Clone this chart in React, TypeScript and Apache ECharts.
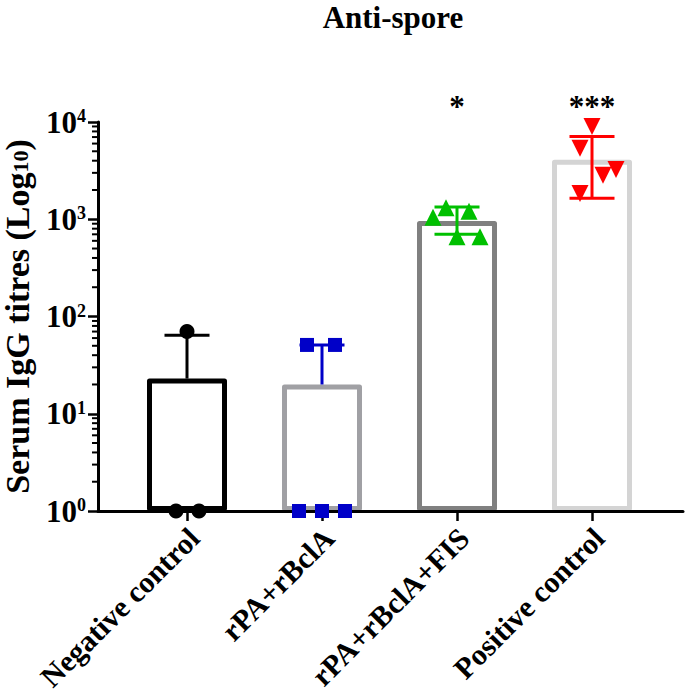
import React, { useEffect, useRef } from "react";
import * as echarts from "echarts";

const categories = ["Negative control", "rPA+rBclA", "rPA+rBclA+FIS", "Positive control"];
const significance = ["", "", "*", "***"];
const meanTitres = [23, 20, 960, 4100];
const errorLow = [23, 20, 700, 1640];
const errorHigh = [64, 51, 1340, 7100];
const negativePoints = [70, 1, 1];
const rpaPoints = [51, 51, 1, 1, 1];
const fisPoints = [1050, 1310, 1210, 660, 660];
const positivePoints = [8970, 5370, 2840, 3240, 1840];
const groupPoints = [negativePoints, rpaPoints, fisPoints, positivePoints];
const yTicks = [1, 10, 100, 1000, 10000];

// horizontal jitter (px) of each individual point, as plotted
const jitter = [
  [0, -11, 12],
  [-15, 13, -23, 0, 23],
  [-24, -11, 12, 0, 23],
  [0, -12, 11, 24, -12],
];
const barColors = ["#000000", "#A0A0A4", "#808080", "#D4D4D4"];
const pointColors = ["#000000", "#0000C8", "#00C000", "#FF0000"];
const symbols = ["circle", "rect", "triangle", "triangle"];
const symbolSizes = [15, 14, 17, 17];
const symbolRotates = [0, 0, 0, 180];

const FONT = "'Liberation Serif', 'Times New Roman', serif";

export default function App() {
  const ref = useRef<HTMLDivElement>(null);
  useEffect(() => {
    document.body.style.margin = "0";
    if (!ref.current) return;
    const chart = echarts.init(ref.current, null, { renderer: "svg" });

    const minorTicks: number[] = [];
    for (let d = 0; d < yTicks.length - 1; d++) {
      for (let m = 2; m <= 9; m++) minorTicks.push(yTicks[d] * m);
    }

    const scatterSeries = groupPoints.map((pts, gi) => ({
      type: "scatter",
      xAxisIndex: 1,
      yAxisIndex: 1,
      z: 12,
      symbol: symbols[gi],
      symbolSize: symbolSizes[gi],
      symbolRotate: symbolRotates[gi],
      itemStyle: { color: pointColors[gi], opacity: 1 },
      data: pts.map((v, i) => ({
        value: [gi, v],
        symbolOffset: [jitter[gi][i], 0],
      })),
    }));

    const gridBase = { top: 122, bottom: 184, outerBoundsMode: "none", containLabel: false };

    const option: any = {
      animation: false,
      title: {
        text: "Anti-spore",
        left: 393,
        textAlign: "center",
        top: 2,
        padding: 0,
        textStyle: { fontFamily: FONT, fontSize: 31, fontWeight: "bold", color: "#000" },
      },
      grid: [
        { ...gridBase, left: 98, right: 2 },
        { ...gridBase, left: 119.5, width: 540 },
        { ...gridBase, left: 126.5, width: 540 },
      ],
      xAxis: [
        {
          type: "value",
          gridIndex: 0,
          min: 0,
          max: 1,
          z: 10,
          axisLine: { show: true, lineStyle: { color: "#000", width: 3 } },
          axisTick: { show: false },
          axisLabel: { show: false },
          splitLine: { show: false },
        },
        {
          type: "category",
          gridIndex: 1,
          data: categories,
          position: "bottom",
          axisLine: { show: false },
          axisTick: { show: true, alignWithLabel: true, length: 10, lineStyle: { color: "#000", width: 2.5 } },
          axisLabel: { show: false },
        },
        {
          type: "category",
          gridIndex: 1,
          data: significance,
          position: "top",
          axisLine: { show: false },
          axisTick: { show: false },
          axisLabel: {
            margin: 0,
            fontFamily: FONT,
            fontSize: 31,
            fontWeight: "bold",
            color: "#000",
            interval: 0,
          },
        },
        {
          type: "category",
          gridIndex: 2,
          data: categories,
          position: "bottom",
          axisLine: { show: false },
          axisTick: { show: false },
          axisLabel: {
            rotate: 45,
            margin: 22,
            padding: [14, 0, 0, 0],
            fontFamily: FONT,
            fontSize: 30,
            fontWeight: "bold",
            color: "#000",
            interval: 0,
          },
        },
      ],
      yAxis: [
        {
          type: "log",
          gridIndex: 0,
          logBase: 10,
          min: 1,
          max: 10000,
          z: 10,
          name: "Serum IgG titres (Log{sub|10})",
          nameLocation: "middle",
          nameRotate: 90,
          nameGap: 67,
          nameTextStyle: {
            fontFamily: FONT,
            fontSize: 34,
            lineHeight: 28,
            fontWeight: "bold",
            color: "#000",
            rich: {
              sub: { fontFamily: FONT, fontSize: 22, lineHeight: 28, fontWeight: "bold", color: "#000", verticalAlign: "bottom" },
            },
          },
          axisLine: { show: true, lineStyle: { color: "#000", width: 3 } },
          axisTick: { show: true, length: 10, lineStyle: { color: "#000", width: 2.5 } },
          splitLine: { show: false },
          axisLabel: {
            margin: 12,
            fontFamily: FONT,
            fontSize: 31,
            fontWeight: "bold",
            color: "#000",
            formatter: (v: number) => `{base|10}{sup|${Math.round(Math.log10(v))}}`,
            rich: {
              base: { fontFamily: FONT, fontSize: 31, fontWeight: "bold", color: "#000", lineHeight: 30 },
              sup: { fontFamily: FONT, fontSize: 18, fontWeight: "bold", color: "#000", verticalAlign: "top", lineHeight: 30 },
            },
          },
        },
        {
          type: "log",
          gridIndex: 1,
          logBase: 10,
          min: 1,
          max: 10000,
          show: false,
          splitLine: { show: false },
        },
        {
          type: "log",
          gridIndex: 2,
          logBase: 10,
          min: 1,
          max: 10000,
          show: false,
          splitLine: { show: false },
        },
      ],
      series: [
        {
          type: "custom",
          xAxisIndex: 0,
          yAxisIndex: 0,
          z: 11,
          silent: true,
          data: minorTicks.map((v) => [0, v]),
          renderItem: (params: any, api: any) => {
            const p = api.coord([0, api.value(1)]);
            return {
              type: "line",
              shape: { x1: p[0] - 6, y1: p[1], x2: p[0], y2: p[1] },
              style: { stroke: "#000", lineWidth: 2 },
            };
          },
        },
        {
          type: "bar",
          xAxisIndex: 1,
          yAxisIndex: 1,
          barWidth: 80,
          z: 2,
          data: meanTitres.map((v, i) => ({
            value: v,
            itemStyle: { color: "#fff", borderColor: barColors[i], borderWidth: 5, borderJoin: "round" },
          })),
        },
        {
          type: "custom",
          xAxisIndex: 1,
          yAxisIndex: 1,
          z: 11,
          data: categories.map((c, i) => [i, errorLow[i], errorHigh[i]]),
          renderItem: (params: any, api: any) => {
            const i = api.value(0);
            const lo = api.coord([i, api.value(1)]);
            const hi = api.coord([i, api.value(2)]);
            const color = pointColors[params.dataIndex];
            const half = 22.5;
            const style = { stroke: color, lineWidth: 3 };
            const children: any[] = [
              { type: "line", shape: { x1: hi[0], y1: lo[1], x2: hi[0], y2: hi[1] }, style },
              { type: "line", shape: { x1: hi[0] - half, y1: hi[1], x2: hi[0] + half, y2: hi[1] }, style },
            ];
            if (errorLow[params.dataIndex] < meanTitres[params.dataIndex]) {
              children.push({ type: "line", shape: { x1: lo[0] - half, y1: lo[1], x2: lo[0] + half, y2: lo[1] }, style });
            }
            return { type: "group", children };
          },
        },
        ...scatterSeries,
      ],
    };
    chart.setOption(option);
    return () => chart.dispose();
  }, []);
  return <div ref={ref} style={{ width: 685, height: 695 }} />;
}
